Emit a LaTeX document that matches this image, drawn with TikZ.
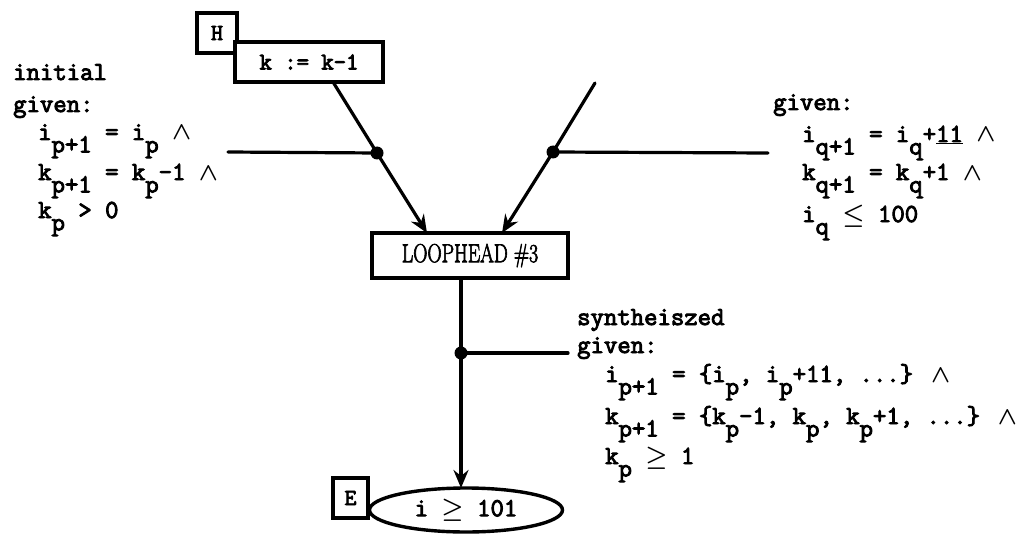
\documentclass[tikz,border=0pt]{standalone}
\usepackage{fontspec}
\usepackage{bm}
\usetikzlibrary{shapes.geometric,arrows.meta}
\newfontfamily\tw[FakeBold=3.5]{Latin Modern Mono}
\newfontfamily\lhfont[FakeBold=3]{Latin Modern Roman}
\newcommand\sbx[1]{\raisebox{-0.48em}{#1}}
\newcommand\wg{$\bm{\wedge}$}
\tikzset{
  txt/.style={anchor=base west, inner sep=0pt, font=\tw\fontsize{26}{30}\selectfont},
  ln/.style={line width=3.2pt, line cap=round},
  arr/.style={line width=3.2pt, -{Stealth[length=18pt,width=15pt,inset=6pt]}},
  boxs/.style={draw, line width=3.6pt, fill=white, inner sep=0pt, rectangle},
  dot/.style={circle, fill=black, inner sep=0pt, minimum size=13pt},
}
\begin{document}
\begin{tikzpicture}[x=1pt,y=-1pt]
\useasboundingbox (0,0) rectangle (1019,540);
% boxes
\node[boxs, minimum width=40pt, minimum height=40pt, font=\tw\fontsize{23}{24}\selectfont] (H) at (217,33) {H};
\node[boxs, minimum width=148pt, minimum height=40pt, font=\tw\fontsize{24}{26}\selectfont] (kb) at (309,62) {k := k-1};
\node[boxs, minimum width=196pt, minimum height=45pt, font=\lhfont\fontsize{26}{28}\selectfont] (lh) at (470,255.5) {\scalebox{0.76}[1]{LOOPHEAD \#3}};
\node[boxs, minimum width=35pt, minimum height=40pt, font=\tw\fontsize{23}{24}\selectfont] (Eb) at (350.5,498) {E};
\node[draw, ellipse, line width=3.4pt, fill=white, minimum width=193pt, minimum height=44pt, inner sep=0pt, font=\tw\fontsize{26}{30}\selectfont] (el) at (466,510) {i $\bm{\geq}$ 101};
% junction dots
\node[dot] (dl) at (377,153) {};
\node[dot] (dr) at (553,152) {};
\node[dot] (db) at (461,353) {};
% free ends
\coordinate (ks) at (333,82);
\coordinate (rs) at (595,83);
\coordinate (lt) at (427,233);
\coordinate (rt) at (502,233);
\coordinate (le) at (228,152);
\coordinate (re) at (768,153);
\coordinate (vs) at (461,278);
\coordinate (vt) at (461,488);
\coordinate (be) at (568,353);
% connectors
\draw[ln] (ks) -- (dl.center);
\draw[arr] (dl.center) -- (lt);
\draw[ln] (rs) -- (dr.center);
\draw[arr] (dr.center) -- (rt);
\draw[ln] (le) -- (dl.center);
\draw[ln] (dr.center) -- (re);
\draw[ln] (vs) -- (db.center);
\draw[arr] (db.center) -- (vt);
\draw[ln] (db.center) -- (be);
% left text
\node[txt] (l1) at (13,80) {initial};
\node[txt] (l2) at (13,112) {given:};
\node[txt] (l3) at (38,140) {i\sbx{p+1} = i\sbx{p} \wg};
\node[txt] (l4) at (38,180) {k\sbx{p+1} = k\sbx{p}-1 \wg};
\node[txt] (l5) at (38,218) {k\sbx{p} > 0};
% right text
\node[txt] (r1) at (773,110) {given:};
\node[txt] (r2) at (802,142) {i\sbx{q+1} = i\sbx{q}+\underline{11} \wg};
\node[txt] (r3) at (802,180) {k\sbx{q+1} = k\sbx{q}+1 \wg};
\node[txt] (r4) at (802,222) {i\sbx{q} $\bm{\leq}$ 100};
% bottom right text
\node[txt] (b1) at (577,325) {syntheiszed};
\node[txt] (b2) at (577,353) {given:};
\node[txt] (b3) at (605,382) {i\sbx{p+1} = \{i\sbx{p}, i\sbx{p}+11, ...\} \wg};
\node[txt] (b4) at (605,424) {k\sbx{p+1} = \{k\sbx{p}-1, k\sbx{p}, k\sbx{p}+1, ...\} \wg};
\node[txt] (b5) at (605,464) {k\sbx{p} $\bm{\geq}$ 1};
\end{tikzpicture}
\end{document}
